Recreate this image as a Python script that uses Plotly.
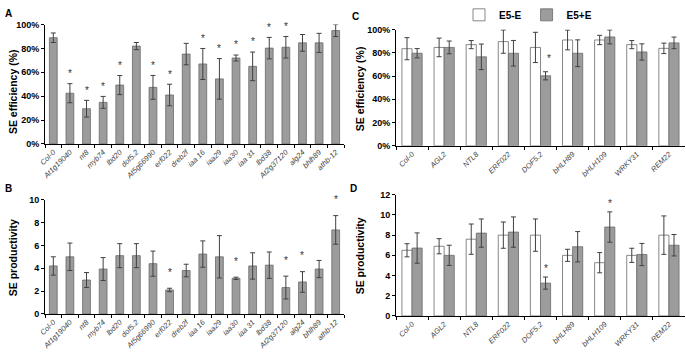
import plotly.graph_objects as go

# ---------- data ----------
genes_ab = ["Col-0", "At1g19040", "nt8", "myb74", "lbd20", "dof5.2", "At5g66990", "erf022",
            "dreb2f", "iaa 16", "iaa29", "iaa30", "iaa 31", "lbd38", "At2g37120", "alg24",
            "bhlh89", "athb-12"]
eff_a = [89, 42.5, 29.5, 34.8, 49.3, 82, 47.4, 41, 75.3, 67, 54.5, 72, 65, 80.3, 81, 84.7, 84.7, 95]
eff_a_err = [4, 8, 7, 5, 8, 3, 10, 9, 9, 13, 17, 2.5, 12, 9, 9, 7, 8, 5]
star_a = [0, 1, 1, 1, 1, 0, 1, 1, 0, 1, 1, 1, 1, 1, 1, 0, 0, 0]

prod_b = [4.2, 5.0, 2.97, 3.93, 5.1, 5.1, 4.4, 2.1, 3.8, 5.24, 5.0, 3.12, 4.2, 4.27, 2.31, 2.8, 3.93, 7.35]
prod_b_err = [0.8, 1.2, 0.65, 1.0, 1.05, 1.05, 1.1, 0.15, 0.55, 1.15, 1.85, 0.1, 1.15, 1.15, 1.0, 0.9, 0.75, 1.25]
star_b = [0, 0, 0, 0, 0, 0, 0, 1, 0, 0, 0, 1, 0, 0, 1, 1, 0, 1]

genes_cd = ["Col-0", "AGL2", "NTL8", "ERF022", "DOF5.2", "bHLH89", "bHLH109", "WRKY31", "REM22"]
eff_c_minus = [83.5, 84.6, 87, 89.6, 84.6, 91, 91, 87, 83.8]
eff_c_minus_err = [9.5, 8, 3.5, 10, 13, 8.5, 4, 3.5, 4.5]
eff_c_plus = [79.6, 84.6, 76.5, 79.6, 60.2, 79.6, 93.6, 80.7, 88.5]
eff_c_plus_err = [4, 5.5, 11, 11, 3.5, 11.5, 6, 7, 5]
star_c = [0, 0, 0, 0, 1, 0, 0, 0, 0]

prod_d_minus = [6.5, 6.9, 7.6, 8.0, 8.0, 6.0, 5.27, 6.0, 8.0]
prod_d_minus_err = [0.65, 0.75, 1.5, 1.3, 1.6, 0.6, 1.0, 0.7, 1.9]
prod_d_plus = [6.72, 6.0, 8.2, 8.3, 3.25, 6.85, 8.8, 6.08, 7.0]
prod_d_plus_err = [1.5, 1.0, 1.4, 1.5, 0.6, 1.5, 1.5, 1.1, 1.06]
star_d = [0, 0, 0, 0, 1, 0, 1, 0, 0]

# ---------- style ----------
W, H = 686, 357
GREY = "#9c9c9c"
EDGE = "#6a6a6a"
ERR = "#404040"
FONT = "Liberation Sans"
W1 = 0.47    # single bar width (category units)
W2 = 0.315   # grouped bar width

def px_x(a, b):
    return [a / W, b / W]

def px_y(top, bottom):
    return [1 - bottom / H, 1 - top / H]

fig = go.Figure()

def err(vals):
    return dict(type="data", array=vals, color=ERR, thickness=1, width=2.5, visible=True)

grey_marker = dict(color=GREY, line=dict(color=EDGE, width=0.8))
white_marker = dict(color="white", line=dict(color=EDGE, width=0.8))

# Panel A
fig.add_trace(go.Bar(x=genes_ab, y=eff_a, error_y=err(eff_a_err), marker=grey_marker,
                     width=W1, offset=-W1 / 2, showlegend=False, xaxis="x", yaxis="y"))
# Panel B
fig.add_trace(go.Bar(x=genes_ab, y=prod_b, error_y=err(prod_b_err), marker=grey_marker,
                     width=W1, offset=-W1 / 2, showlegend=False, xaxis="x2", yaxis="y2"))
# Panel C
fig.add_trace(go.Bar(name="E5-E", x=genes_cd, y=eff_c_minus, error_y=err(eff_c_minus_err),
                     marker=white_marker, width=W2, offset=-W2, xaxis="x3", yaxis="y3", showlegend=True))
fig.add_trace(go.Bar(name="E5+E", x=genes_cd, y=eff_c_plus, error_y=err(eff_c_plus_err),
                     marker=grey_marker, width=W2, offset=0, xaxis="x3", yaxis="y3", showlegend=True))
# Panel D
fig.add_trace(go.Bar(name="E5-E", x=genes_cd, y=prod_d_minus, error_y=err(prod_d_minus_err),
                     marker=white_marker, width=W2, offset=-W2, xaxis="x4", yaxis="y4", showlegend=False))
fig.add_trace(go.Bar(name="E5+E", x=genes_cd, y=prod_d_plus, error_y=err(prod_d_plus_err),
                     marker=grey_marker, width=W2, offset=0, xaxis="x4", yaxis="y4", showlegend=False))

annotations = []

def stars(xs, vals, errs, flags, xref, yref, off, shift=0):
    for x, v, e, f in zip(xs, vals, errs, flags):
        if f:
            annotations.append(dict(x=x, y=v + e + off, xref=xref, yref=yref, text="*", showarrow=False,
                                    xshift=shift, font=dict(family=FONT, size=10, color="#333"),
                                    xanchor="center", yanchor="middle"))

stars(genes_ab, eff_a, eff_a_err, star_a, "x", "y", 8.5)
stars(genes_ab, prod_b, prod_b_err, star_b, "x2", "y2", 1.4)
stars(genes_cd, eff_c_plus, eff_c_plus_err, star_c, "x3", "y3", 11, shift=8)
stars(genes_cd, prod_d_plus, prod_d_plus_err, star_d, "x4", "y4", 0.8, shift=5)

# panel letters
for txt, px, py in [("A", 8, 6), ("B", 8, 185), ("C", 355, 9), ("D", 353, 185)]:
    annotations.append(dict(x=px / W, y=1 - py / H, xref="paper", yref="paper", text=txt, showarrow=False,
                            xanchor="center", yanchor="middle",
                            font=dict(family=FONT, size=10, color="black", weight="bold")))

# axis titles
for txt, px, py in [("SE efficiency (%)", 13, 86), ("SE productivity", 13, 256),
                    ("SE efficiency (%)", 360, 82), ("SE productivity", 360, 253)]:
    annotations.append(dict(x=px / W, y=1 - py / H, xref="paper", yref="paper", text=txt, showarrow=False,
                            xanchor="center", yanchor="middle", textangle=-90,
                            font=dict(family=FONT, size=10.5, color="black", weight="bold")))

xtick = dict(family=FONT, size=7.5, color="#444", style="italic")
ytick = dict(family=FONT, size=9, color="black", weight="bold")

def xax(domain, anchor, n):
    return dict(domain=domain, anchor=anchor, range=[-0.5, n - 0.5], showline=True, linecolor="black",
                linewidth=1, ticks="outside", tickson="boundaries", ticklen=3, tickcolor="black",
                tickangle=-45, tickfont=xtick, showgrid=False, zeroline=False, automargin=False)

def yax(domain, anchor, rng, dtick, suffix=""):
    return dict(domain=domain, anchor=anchor, range=rng, dtick=dtick, ticksuffix=suffix, showline=True,
                linecolor="black", linewidth=1, ticks="outside", ticklen=3, tickcolor="black", tickfont=ytick,
                showgrid=False, zeroline=False, automargin=False)

fig.update_layout(
    width=W, height=H, margin=dict(l=0, r=0, t=0, b=0),
    paper_bgcolor="white", plot_bgcolor="white",
    barmode="overlay",
    xaxis=xax(px_x(45, 344), "y", len(genes_ab)),
    yaxis=yax(px_y(17, 139), "x", [0, 100], 20, "%"),
    xaxis2=xax(px_x(45, 344), "y2", len(genes_ab)),
    yaxis2=yax(px_y(196, 313), "x2", [0, 10], 2),
    xaxis3=xax(px_x(396, 685), "y3", len(genes_cd)),
    yaxis3=yax(px_y(22, 141), "x3", [0, 100], 20, "%"),
    xaxis4=xax(px_x(396, 685), "y4", len(genes_cd)),
    yaxis4=yax(px_y(191, 315), "x4", [0, 12], 2),
    legend=dict(orientation="h", x=528 / W, y=1 - 7 / H, xanchor="center", yanchor="middle",
                font=dict(family=FONT, size=10, color="black", weight="bold"), bgcolor="rgba(0,0,0,0)",
                itemwidth=30, traceorder="normal", tracegroupgap=0),
    annotations=annotations,
)

fig.write_html("out.html", config={"displayModeBar": False},
               post_script="document.body.style.margin='0';document.body.style.overflow='hidden';")
